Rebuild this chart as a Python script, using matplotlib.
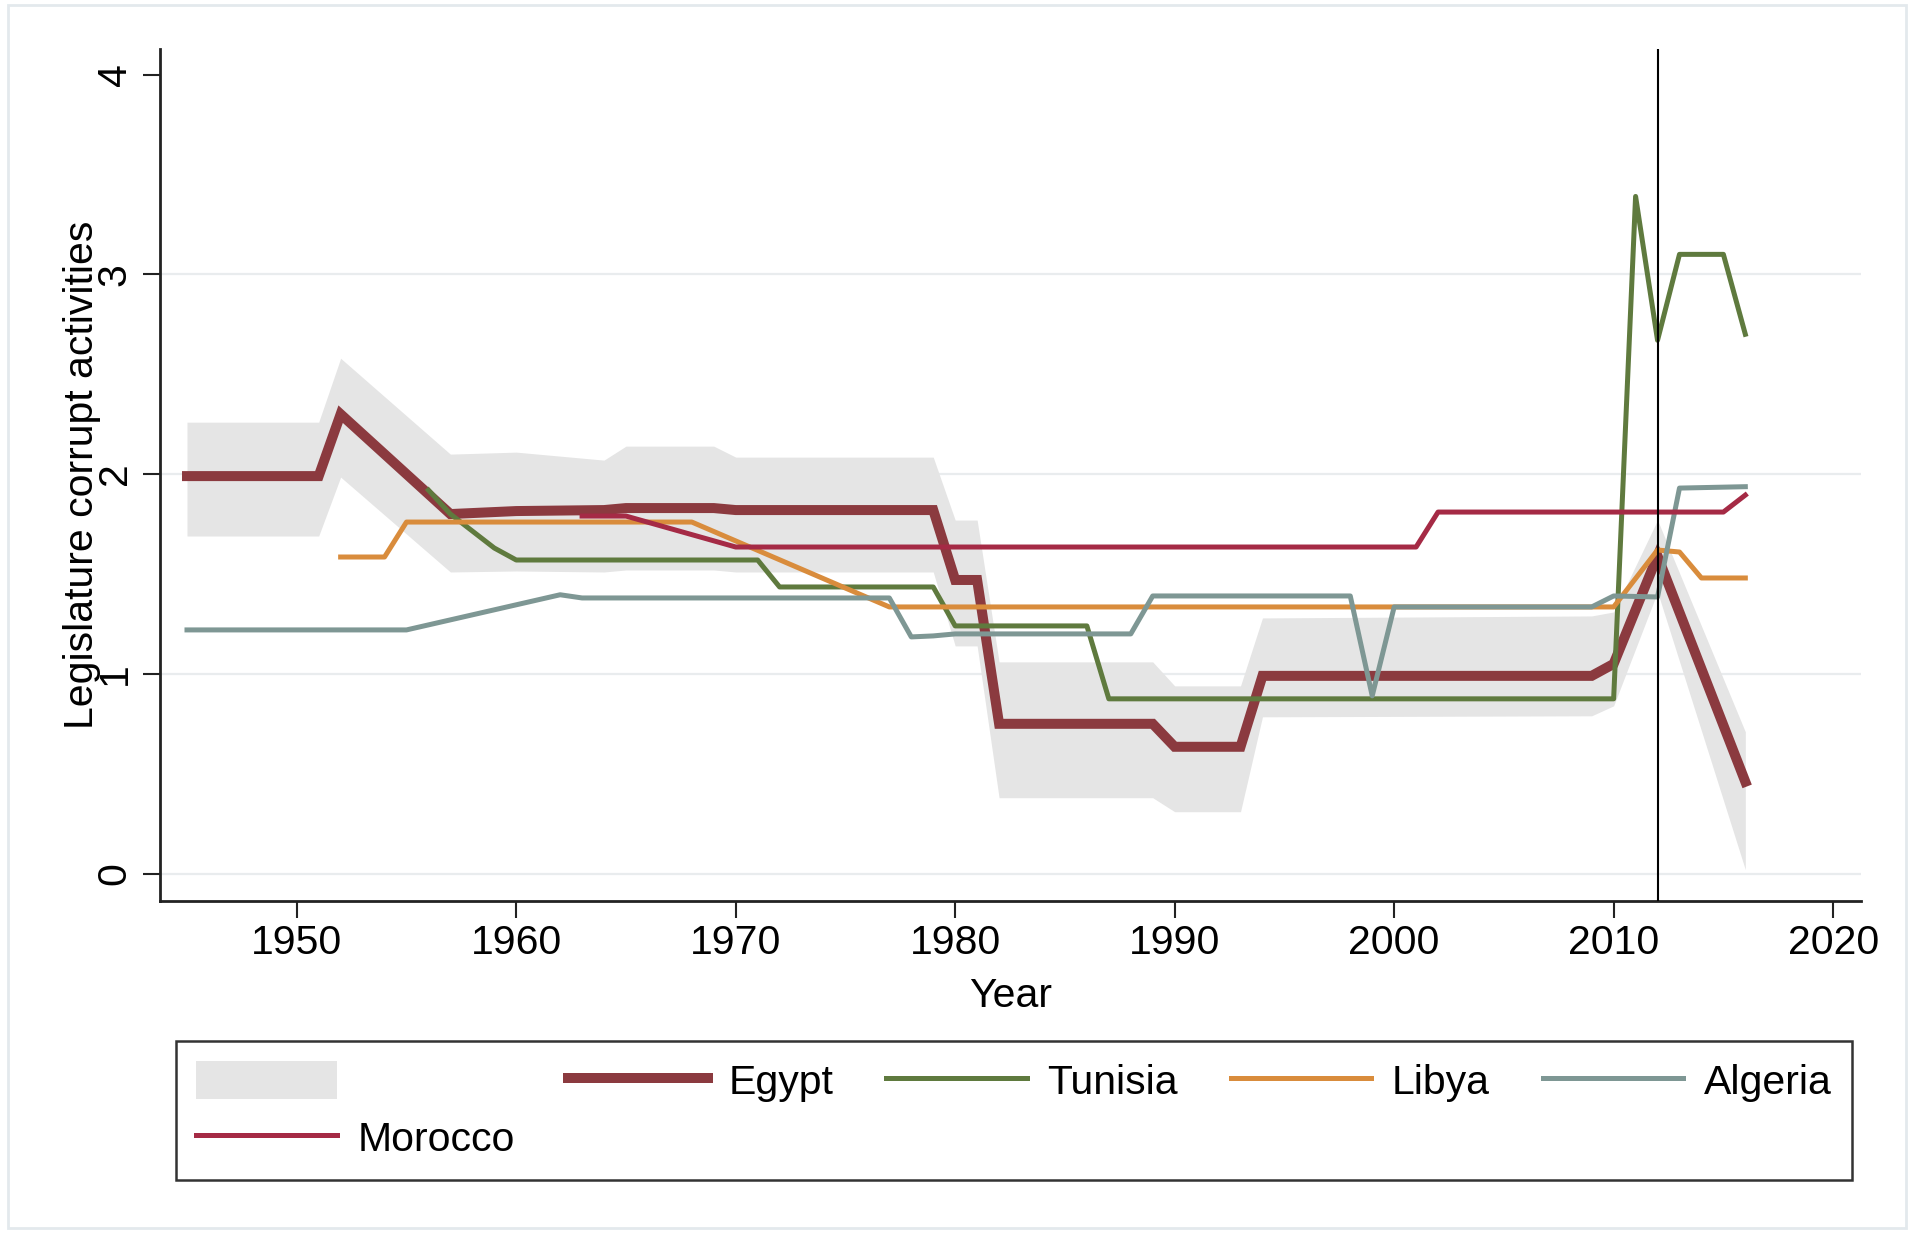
import matplotlib
matplotlib.use("Agg")
import matplotlib.pyplot as plt
from matplotlib.patches import Rectangle

plt.rcParams['font.family'] = ['Liberation Sans', 'DejaVu Sans']

# ---- data -------------------------------------------------------------
egypt_years = [1945, 1951, 1952, 1957, 1960, 1964, 1965, 1969, 1970, 1979,
               1980, 1981, 1982, 1989, 1990, 1993, 1994, 2009, 2010, 2012, 2016]
egypt_vals = [1.99, 1.99, 2.30, 1.80, 1.815, 1.82, 1.83, 1.83, 1.82, 1.82,
              1.47, 1.47, 0.75, 0.75, 0.635, 0.635, 0.99, 0.99, 1.05, 1.59, 0.46]
egypt_hi = [2.26, 2.26, 2.58, 2.10, 2.11, 2.07, 2.14, 2.14, 2.085, 2.085,
            1.77, 1.77, 1.06, 1.06, 0.94, 0.94, 1.28, 1.29, 1.31, 1.77, 0.71]
egypt_lo = [1.69, 1.69, 1.985, 1.51, 1.515, 1.51, 1.52, 1.52, 1.51, 1.51,
            1.14, 1.14, 0.38, 0.38, 0.31, 0.31, 0.785, 0.79, 0.84, 1.41, 0.02]

tunisia_years = [1956, 1957, 1959, 1960, 1971, 1972, 1979, 1980, 1986, 1987,
                 2010, 2011, 2012, 2013, 2015, 2016]
tunisia_vals = [1.92, 1.80, 1.63, 1.57, 1.57, 1.435, 1.435, 1.24, 1.24, 0.875,
                0.875, 3.39, 2.67, 3.10, 3.10, 2.70]

libya_years = [1952, 1954, 1955, 1968, 1977, 2010, 2012, 2013, 2014, 2016]
libya_vals = [1.585, 1.585, 1.76, 1.76, 1.335, 1.335, 1.62, 1.61, 1.48, 1.48]

algeria_years = [1945, 1955, 1962, 1963, 1977, 1978, 1979, 1980, 1988, 1989,
                 1998, 1999, 2000, 2009, 2010, 2012, 2013, 2016]
algeria_vals = [1.22, 1.22, 1.396, 1.38, 1.38, 1.185, 1.19, 1.20, 1.20, 1.39,
                1.39, 0.89, 1.335, 1.335, 1.39, 1.385, 1.93, 1.937]

morocco_years = [1963, 1965, 1970, 2001, 2002, 2015, 2016]
morocco_vals = [1.79, 1.79, 1.635, 1.635, 1.81, 1.81, 1.895]

event_year = 2012
x_ticks = [1950, 1960, 1970, 1980, 1990, 2000, 2010, 2020]
y_ticks = [0, 1, 2, 3, 4]
grid_vals = [0, 1, 2, 3]

# ---- style ------------------------------------------------------------
FS = 29.5
c_egypt = '#8b3a3f'
c_tunisia = '#5f7a3e'
c_libya = '#d98c3c'
c_algeria = '#7e9794'
c_morocco = '#a52a45'
c_band = '#e5e5e5'

W, H = 1910, 1234
fig = plt.figure(figsize=(W / 100, H / 100), dpi=100, facecolor='white')
ax_l, ax_r, ax_t, ax_b = 160, 1861, 49, 901
ax = fig.add_axes([ax_l / W, 1 - ax_b / H, (ax_r - ax_l) / W, (ax_b - ax_t) / H])

for v in grid_vals:
    ax.axhline(v, color='#e9ecee', lw=1.6, zorder=0)

band = ax.fill_between(egypt_years, egypt_lo, egypt_hi, color=c_band,
                       lw=0, zorder=1)
l_egypt, = ax.plot(egypt_years, egypt_vals, color=c_egypt, lw=7.2,
                   solid_joinstyle='miter', zorder=2)
l_tunisia, = ax.plot(tunisia_years, tunisia_vals, color=c_tunisia, lw=3.6, zorder=3)
l_libya, = ax.plot(libya_years, libya_vals, color=c_libya, lw=3.6, zorder=4)
l_algeria, = ax.plot(algeria_years, algeria_vals, color=c_algeria, lw=3.6, zorder=5)
l_morocco, = ax.plot(morocco_years, morocco_vals, color=c_morocco, lw=3.6, zorder=6)
ax.axvline(event_year, color='black', lw=1.5, zorder=7)

ax.set_xlim(1943.77, 2021.27)
ax.set_ylim(-0.137, 4.128)
ax.set_xticks(x_ticks)
ax.set_yticks(y_ticks)
ax.set_xticklabels([str(t) for t in x_ticks])
ax.set_yticklabels([str(t) for t in y_ticks])

for s in ['top', 'right']:
    ax.spines[s].set_visible(False)
for s in ['left', 'bottom']:
    ax.spines[s].set_linewidth(2.0)
    ax.spines[s].set_color('#222222')

ax.tick_params(axis='both', direction='out', length=12.2, width=1.5,
               color='#222222', labelsize=FS, labelcolor='black')
ax.tick_params(axis='x', pad=4)
ax.tick_params(axis='y', pad=6.8, labelrotation=90)
for t in ax.get_yticklabels():
    t.set_va('center')

ax.set_xlabel('Year', fontsize=FS, labelpad=11.5)
ax.set_ylabel('Legislature corrupt activities', fontsize=FS,
              ha='center', va='center', rotation_mode='anchor')
ax.yaxis.set_label_coords(-0.046, 0.5)

handles = [band, l_morocco, l_egypt, l_tunisia, l_libya, l_algeria]
labels = ['', 'Morocco', 'Egypt', 'Tunisia', 'Libya', 'Algeria']
leg = fig.legend(handles, labels, ncol=5, loc='upper left',
                 bbox_to_anchor=(176 / W, 1 - 1041 / H),
                 bbox_transform=fig.transFigure, fontsize=FS,
                 frameon=True, fancybox=False, edgecolor='black',
                 borderpad=0.5, handlelength=3.42, handletextpad=0.51,
                 columnspacing=1.29, handleheight=1.05, labelspacing=0.38,
                 borderaxespad=0)
leg.get_frame().set_linewidth(1.8)

# light outline around the whole graph region
fig.patches.append(Rectangle((8 / W, 1 - 1228 / H), (1906 - 8) / W, (1228 - 5) / H,
                             transform=fig.transFigure, fill=False,
                             ec='#e3e9ed', lw=2))

fig.savefig('out.png', dpi=100, facecolor='white')
